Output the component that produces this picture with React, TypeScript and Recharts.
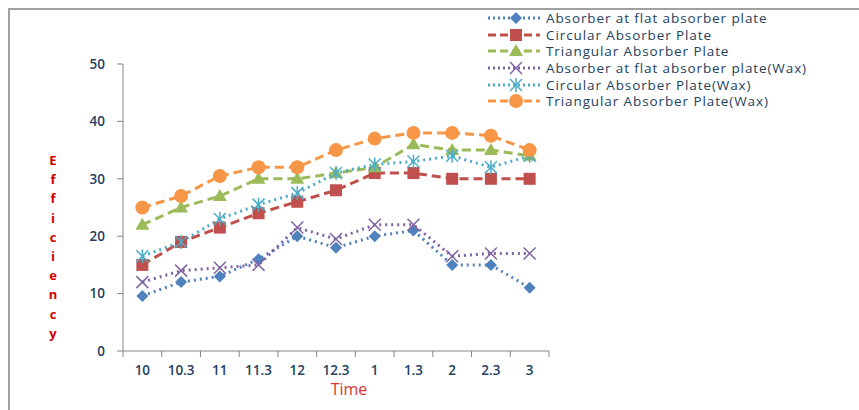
import { LineChart, Line, XAxis, YAxis } from 'recharts';

// x categories (time of day)
const timeLabels = ['10', '10.3', '11', '11.3', '12', '12.3', '1', '1.3', '2', '2.3', '3'];
const yTicks = [0, 10, 20, 30, 40, 50];

// efficiency values
const flatPlate = [9.6, 12, 13, 16, 20, 18, 20, 21, 15, 15, 11];
const circularPlate = [15, 19, 21.5, 24, 26, 28, 31, 31, 30, 30, 30];
const triangularPlate = [22, 25, 27, 30, 30, 31, 32, 36, 35, 35, 34];
const flatPlateWax = [12, 14, 14.5, 15, 21.5, 19.5, 22, 22, 16.5, 17, 17];
const circularPlateWax = [16.5, 19, 23, 25.5, 27.5, 31, 32.5, 33, 34, 32, 34];
const triangularPlateWax = [25, 27, 30.5, 32, 32, 35, 37, 38, 38, 37.5, 35];

const data = timeLabels.map((t, i) => ({
  idx: i,
  time: t,
  flat: flatPlate[i],
  circ: circularPlate[i],
  tri: triangularPlate[i],
  flatWax: flatPlateWax[i],
  circWax: circularPlateWax[i],
  triWax: triangularPlateWax[i],
}));

const xTicks: number[] = [];
for (let i = -0.5; i <= timeLabels.length - 0.5; i += 0.5) xTicks.push(i);

type MarkerFn = (cx: number, cy: number, color: string) => JSX.Element;

const diamond: MarkerFn = (cx, cy, c) => (
  <polygon points={`${cx},${cy - 6} ${cx + 6},${cy} ${cx},${cy + 6} ${cx - 6},${cy}`} fill={c} />
);
const square: MarkerFn = (cx, cy, c) => <rect x={cx - 6} y={cy - 6} width={12} height={12} fill={c} />;
const triangle: MarkerFn = (cx, cy, c) => (
  <polygon points={`${cx},${cy - 7} ${cx + 7},${cy + 5} ${cx - 7},${cy + 5}`} fill={c} />
);
const cross: MarkerFn = (cx, cy, c) => (
  <g stroke={c} strokeWidth={1.5}>
    <line x1={cx - 6} y1={cy - 6} x2={cx + 6} y2={cy + 6} />
    <line x1={cx - 6} y1={cy + 6} x2={cx + 6} y2={cy - 6} />
  </g>
);
const star: MarkerFn = (cx, cy, c) => (
  <g stroke={c} strokeWidth={1.5}>
    <line x1={cx - 6} y1={cy - 6} x2={cx + 6} y2={cy + 6} />
    <line x1={cx - 6} y1={cy + 6} x2={cx + 6} y2={cy - 6} />
    <line x1={cx} y1={cy - 7} x2={cx} y2={cy + 7} />
  </g>
);
const circle: MarkerFn = (cx, cy, c) => <circle cx={cx} cy={cy} r={7} fill={c} />;

const DOTTED = '2 4';
const DASHED = '9 5';

const series = [
  { key: 'flat', name: 'Absorber at flat absorber plate', color: '#4F81BD', dash: DOTTED, marker: diamond },
  { key: 'circ', name: 'Circular Absorber Plate', color: '#C0504D', dash: DASHED, marker: square },
  { key: 'tri', name: 'Triangular Absorber Plate', color: '#9BBB59', dash: DASHED, marker: triangle },
  { key: 'flatWax', name: 'Absorber at flat absorber plate(Wax)', color: '#8064A2', dash: DOTTED, marker: cross },
  { key: 'circWax', name: 'Circular Absorber Plate(Wax)', color: '#4BACC6', dash: DOTTED, marker: star },
  { key: 'triWax', name: 'Triangular Absorber Plate(Wax)', color: '#F79646', dash: DASHED, marker: circle },
];

const FONT = '"Open Sans", sans-serif';
const TEXT = '#243F60';
const AXIS = '#868686';

const XTick = (props: any) => {
  const { x, y, payload } = props;
  const v = payload.value as number;
  if (Number.isInteger(v)) {
    return (
      <text x={x} y={y + 24} textAnchor="middle" fontSize={13.5} fontWeight={600} fill={TEXT} fontFamily={FONT}>
        {timeLabels[v]}
      </text>
    );
  }
  return <line x1={x} x2={x} y1={y} y2={y + 6} stroke={AXIS} />;
};

const YLabel = () => {
  const letters = 'Efficiency'.split('');
  return (
    <g>
      {letters.map((ch, i) => (
        <text key={i} x={53} y={165 + i * 19.2} textAnchor="middle" fontSize={13} fontWeight={700} fill="#D00000" fontFamily={FONT}>
          {ch}
        </text>
      ))}
    </g>
  );
};

const LegendBox = () => (
  <div style={{ position: 'absolute', left: 486, top: 10, fontFamily: FONT, fontSize: 13.5, letterSpacing: 0.9, color: TEXT }}>
    {series.map((s) => (
      <div key={s.key} style={{ display: 'flex', alignItems: 'center', height: 16.6 }}>
        <svg width={60} height={16} style={{ flex: 'none' }}>
          <line x1={2} x2={54} y1={8} y2={8} stroke={s.color} strokeWidth={3} strokeDasharray={s.dash === DOTTED ? '2 3' : '8 4'} />
          {s.marker(30, 8, s.color)}
        </svg>
        <span style={{ whiteSpace: 'nowrap', lineHeight: '16px' }}>{s.name}</span>
      </div>
    ))}
  </div>
);

export default function App() {
  return (
    <div style={{ position: 'absolute', left: 0, top: 0, width: 859, height: 410, background: '#fff' }}>
      <div
        style={{
          position: 'absolute',
          left: 8,
          top: 8,
          width: 851,
          height: 402,
          borderTop: '2px solid #A0A0A0',
          borderLeft: '2px solid #A0A0A0',
          boxSizing: 'border-box',
        }}
      />
      <LineChart width={859} height={410} data={data} margin={{ top: 64, right: 310, bottom: 29, left: 83 }}>
        <XAxis
          dataKey="idx"
          type="number"
          domain={[-0.5, timeLabels.length - 0.5]}
          ticks={xTicks}
          interval={0}
          tickLine={false}
          tickSize={0}
          tickMargin={0}
          tick={<XTick />}
          height={30}
          stroke={AXIS}
          allowDecimals
        />
        <YAxis
          domain={[0, 50]}
          ticks={yTicks}
          width={40}
          stroke={AXIS}
          tickSize={6}
          tickMargin={12}
          tick={{ fontSize: 13.5, fontWeight: 600, fill: TEXT, fontFamily: FONT }}
        />
        {series.map((s) => (
          <Line
            key={s.key}
            dataKey={s.key}
            name={s.name}
            stroke={s.color}
            strokeWidth={3}
            strokeDasharray={s.dash}
            isAnimationActive={false}
            dot={(p: any) => <g key={`${s.key}-${p.index}`}>{s.marker(p.cx, p.cy, s.color)}</g>}
            activeDot={false}
          />
        ))}
      </LineChart>
      <svg width={859} height={410} style={{ position: 'absolute', left: 0, top: 0, pointerEvents: 'none' }}>
        <YLabel />
        <text x={349} y={395} textAnchor="middle" fontSize={16} fill="#E03030" fontFamily={FONT}>
          Time
        </text>
      </svg>
      <LegendBox />
    </div>
  );
}
